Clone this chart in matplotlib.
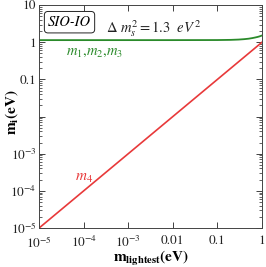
import numpy as np
import matplotlib
matplotlib.use('Agg')
import matplotlib.pyplot as plt

plt.rcParams['font.family'] = 'STIXGeneral'
plt.rcParams['mathtext.fontset'] = 'stix'

# values
m_light = [1e-5, 1e-4, 1e-3, 0.01, 0.1, 0.2, 0.3, 0.4, 0.5, 0.6, 0.7, 0.8, 0.9, 1.0]
m123 = [1.14, 1.14, 1.14, 1.14, 1.145, 1.158, 1.18, 1.21, 1.245, 1.29, 1.34, 1.39, 1.45, 1.52]
m4_x = [1e-5, 1.0]
m4_y = [1e-5, 1.0]

xticks = [1e-5, 1e-4, 1e-3, 0.01, 0.1, 1]
xlabels = [r'$10^{-5}$', r'$10^{-4}$', r'$10^{-3}$', '0.01', '0.1', '1']
yticks = [1e-5, 1e-4, 1e-3, 0.01, 0.1, 1, 10]
ylabels = [r'$10^{-5}$', r'$10^{-4}$', r'$10^{-3}$', '', '0.1', '1', '10']

fig = plt.figure(figsize=(2.66, 2.67), dpi=100)
ax = fig.add_axes([0.147, 0.146, 0.838, 0.835])

ax.plot(m_light, m123, color='#2a8a2a', lw=1.3)
ax.plot(m4_x, m4_y, color='#e8393a', lw=1.2)

ax.set_xscale('log')
ax.set_yscale('log')
ax.set_xlim(1e-5, 1)
ax.set_ylim(1e-5, 10)
ax.set_xticks(xticks)
ax.set_xticklabels(xlabels)
ax.set_yticks(yticks)
ax.set_yticklabels(ylabels)
ax.tick_params(which='both', direction='in', top=True, right=True, labelsize=9.5, colors='#222222')
ax.tick_params(which='major', length=4, width=0.6)
ax.tick_params(which='minor', length=2, width=0.5)
ax.tick_params(axis='y', pad=2)
ax.tick_params(axis='x', pad=5)
for s in ax.spines.values():
    s.set_linewidth(0.7)
    s.set_color('#444444')

ax.set_xlabel(r'$\mathbf{m_{lightest}}$(eV)', fontsize=11, fontweight='bold', va='center')
ax.set_ylabel(r'$\mathbf{m_i}$(eV)', fontsize=11, fontweight='bold', va='center')
ax.xaxis.set_label_coords(0.5, -0.137)
ax.yaxis.set_label_coords(-0.123, 0.52)

ax.text(0.04, 0.955, 'SIO-IO', transform=ax.transAxes, fontsize=10.5, style='italic',
        va='top', ha='left', bbox=dict(boxstyle='round,pad=0.25', fc='white', ec='#222222', lw=0.7))
ax.text(0.3, 0.94, r'$\Delta\ m_s^2 = 1.3\ \ eV^2$', transform=ax.transAxes, fontsize=10.5,
        va='top', ha='left', color='#222222')
ax.text(0.12, 0.79, r'$m_1$,$m_2$,$m_3$', transform=ax.transAxes, fontsize=10.5,
        color='#2a8a2a', va='center', ha='left')
ax.text(0.16, 0.225, r'$m_4$', transform=ax.transAxes, fontsize=11,
        color='#e8393a', va='center', ha='left')

fig.savefig('out.png', dpi=100)
